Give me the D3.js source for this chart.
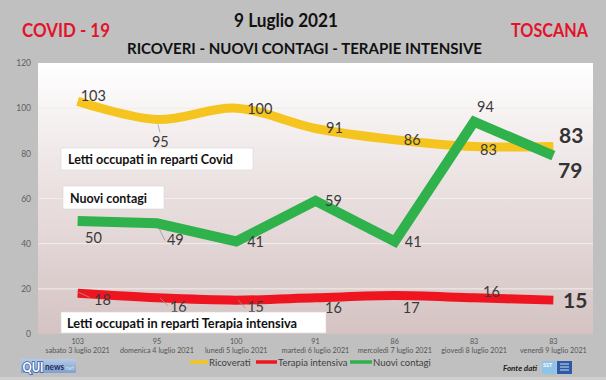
<!DOCTYPE html>
<html><head><meta charset="utf-8">
<script src="https://cdn.jsdelivr.net/npm/d3@7"></script>
<style>
html,body{margin:0;padding:0;background:#c0c0c0;}
svg{display:block;font-family:Lato,"Open Sans",sans-serif;}
</style></head>
<body><svg id="c" width="606" height="380"></svg>
<script>
// ---- data ----
const dates = ["sabato 3 luglio 2021","domenica 4 luglio 2021","lunedì 5 luglio 2021","martedì 6 luglio 2021","mercoledì 7 luglio 2021","giovedì 8 luglio 2021","venerdì 9 luglio 2021"];
const ricoverati = [103,95,100,91,86,83,83];
const terapiaIntensiva = [18,16,15,16,17,16,15];
const nuoviContagi = [50,49,41,59,41,94,79];
const yTicks = [0,20,40,60,80,100,120];
const seriesNames = ["Ricoverati","Terapia intensiva","Nuovi contagi"];

// label placement (offsets from point: dx to text start, dy to baseline)
const offRic = [[3,0],[-5,27.5],[11,6],[10.5,4.5],[9,5],[6,8.4],[5.6,-3.6]];
const offCon = [[7.4,22],[10,22],[11,5.6],[9.5,5],[10,5.6],[3,-9.7],[4.6,22.4]];
const offTer = [[16.4,11.6],[13,14],[11,12],[9.5,15],[8,17.4],[9,-1],[9.6,8]];

const svg = d3.select("#c");
const W = 606, H = 380;
const plot = {l:38, r:593, t:63, b:334};

svg.append("rect").attr("width",W).attr("height",H).attr("fill","#c0c0c0");
svg.append("rect").attr("y",377).attr("width",W).attr("height",3).attr("fill","#cfcfcf");

const defs = svg.append("defs");
const g1 = defs.append("linearGradient").attr("id","pg").attr("x1",0).attr("y1",0).attr("x2",0).attr("y2",1);
g1.append("stop").attr("offset","0%").attr("stop-color","#ffffff");
g1.append("stop").attr("offset","45%").attr("stop-color","#ebe1e1");
g1.append("stop").attr("offset","100%").attr("stop-color","#d5c3c3");

const x = d3.scaleBand().domain(d3.range(dates.length)).range([plot.l, plot.r]);
const xc = i => x(i) + x.bandwidth()/2;
const y = d3.scaleLinear().domain([0,120]).range([plot.b, plot.t]);

svg.append("rect").attr("x",plot.l).attr("y",plot.t).attr("width",plot.r-plot.l).attr("height",plot.b-plot.t).attr("fill","url(#pg)");

// gridlines
svg.append("g").selectAll("line").data(yTicks.filter(v=>v>0&&v<120)).join("line")
  .attr("x1",plot.l).attr("x2",plot.r).attr("y1",d=>y(d)).attr("y2",d=>y(d))
  .attr("stroke","#f2ecec").attr("stroke-width",1);

// y axis
const yAxis = d3.axisLeft(y).tickValues(yTicks).tickSize(0).tickPadding(0);
const ya = svg.append("g").attr("transform","translate(31,0)").call(yAxis);
ya.select(".domain").remove();
ya.selectAll("text").attr("font-size",8.5).attr("fill","#606060").attr("font-family","Lato");

// x axis labels: values row and date row
const xl = svg.append("g");
xl.selectAll("text.v").data(ricoverati).join("text").attr("class","v")
  .attr("x",(d,i)=>xc(i)).attr("y",344).attr("text-anchor","middle")
  .attr("font-size",7.2).attr("fill","#555").text(d=>d);
xl.selectAll("text.d").data(dates).join("text").attr("class","d")
  .attr("x",(d,i)=>xc(i)).attr("y",353).attr("text-anchor","middle")
  .attr("font-size",7.2).attr("fill","#555").text(d=>d);

// lines
const smooth = d3.line().x((d,i)=>xc(i)).y(d=>y(d)).curve(d3.curveCatmullRom.alpha(0.5));
const straight = d3.line().x((d,i)=>xc(i)).y(d=>y(d));
const colRic = "#f5c41f", colTer = "#ee1520", colCon = "#2fb14b";

svg.append("path").attr("d",smooth(ricoverati)).attr("fill","none").attr("stroke",colRic).attr("stroke-width",9);
svg.append("path").attr("d",smooth(terapiaIntensiva)).attr("fill","none").attr("stroke",colTer).attr("stroke-width",9);
svg.append("path").attr("d",straight(nuoviContagi)).attr("fill","none").attr("stroke",colCon).attr("stroke-width",10).attr("stroke-linejoin","miter");

// leader lines
const leaders = [
  [ricoverati,1,[1,5],[3,13]],
  [nuoviContagi,1,[2,5],[8,17]],
  [terapiaIntensiva,0,[1,-1],[12,4]],
  [terapiaIntensiva,1,[3,0],[11,8]],
  [terapiaIntensiva,2,[2,0],[9,8]]
];
leaders.forEach(([s,i,a,b])=>{
  svg.append("line").attr("x1",xc(i)+a[0]).attr("y1",y(s[i])+a[1]).attr("x2",xc(i)+b[0]).attr("y2",y(s[i])+b[1])
    .attr("stroke","#9a9a9a").attr("stroke-width",0.8);
});

// data labels
function labels(series, offs){
  const n = series.length;
  svg.append("g").selectAll("text").data(series).join("text")
    .attr("x",(d,i)=>xc(i)+offs[i][0]).attr("y",(d,i)=>y(d)+offs[i][1])
    .attr("font-size",(d,i)=>i===n-1?21:14.5)
    .attr("font-weight",(d,i)=>i===n-1?"bold":"normal")
    .attr("fill",(d,i)=>i===n-1?"#333":"#3a3a3a")
    .text(d=>d);
}
labels(ricoverati, offRic);
labels(nuoviContagi, offCon);
labels(terapiaIntensiva, offTer);

// annotation boxes
function box(x0,y0,w,h,tx,ty,tw,txt){
  svg.append("rect").attr("x",x0).attr("y",y0).attr("width",w).attr("height",h).attr("fill","#ffffff").attr("stroke","#d8d8d8").attr("stroke-width",0.6);
  svg.append("text").attr("x",tx).attr("y",ty).attr("font-size",14).attr("font-weight","bold").attr("fill","#111")
    .attr("textLength",tw).attr("lengthAdjust","spacingAndGlyphs").text(txt);
}
box(61,148,192,22,68,164,165,"Letti occupati in reparti Covid");
box(63,186,101,23,70,202.5,77,"Nuovi contagi");
box(61,312,265,21,67,327.5,230,"Letti occupati in reparti Terapia intensiva");

// titles
function title(txt,x0,yb,size,fill,len,anchor){
  svg.append("text").attr("x",x0).attr("y",yb).attr("font-size",size).attr("font-weight","bold").attr("fill",fill)
    .attr("text-anchor",anchor||"start").attr("textLength",len).attr("lengthAdjust","spacingAndGlyphs").text(txt);
}
title("COVID - 19",22,37,19,"#e3132b",88);
title("9 Luglio 2021",234,27,18,"#111",104);
title("RICOVERI - NUOVI CONTAGI - TERAPIE INTENSIVE",127,54,15.5,"#111",355);
title("TOSCANA",511,37,19,"#e3132b",77);

// legend
const legX = [[190,208],[256,277],[350,372]];
const legC = [colRic,colTer,colCon];
seriesNames.forEach((n,i)=>{
  svg.append("line").attr("x1",legX[i][0]).attr("x2",legX[i][1]).attr("y1",362).attr("y2",362).attr("stroke",legC[i]).attr("stroke-width",3.5);
  svg.append("text").attr("x",legX[i][1]+1).attr("y",365.5).attr("font-size",9.5).attr("fill","#404040").text(n);
});

// QUInews logo
const lg = defs.append("linearGradient").attr("id","lq").attr("x1",0).attr("y1",0).attr("x2",0).attr("y2",1);
lg.append("stop").attr("offset","0%").attr("stop-color","#b6cbe6");
lg.append("stop").attr("offset","100%").attr("stop-color","#7f9fcc");
svg.append("rect").attr("x",21).attr("y",359).attr("width",55).attr("height",14).attr("fill","url(#lq)").attr("rx",1);
svg.append("text").attr("x",22.5).attr("y",371.5).attr("font-size",12.5).attr("font-weight","bold").attr("fill","#ffffff")
  .attr("stroke","#2a5ba8").attr("stroke-width",1.6).attr("paint-order","stroke")
  .attr("textLength",21).attr("lengthAdjust","spacingAndGlyphs").text("QUI");
svg.append("text").attr("x",45).attr("y",370).attr("font-size",8.5).attr("font-weight","bold").attr("fill","#1c2d5c")
  .attr("textLength",19).attr("lengthAdjust","spacingAndGlyphs").text("news");
svg.append("text").attr("x",65.5).attr("y",370).attr("font-size",6).attr("fill","#d4e0f0").text("net");

// Fonte dati
svg.append("text").attr("x",503).attr("y",371).attr("font-size",8).attr("font-weight","bold").attr("font-style","italic").attr("fill","#222").text("Fonte dati");
svg.append("rect").attr("x",542).attr("y",361).attr("width",14).attr("height",13).attr("fill","#8ec3ea");
svg.append("text").attr("x",543).attr("y",367).attr("font-size",5.5).attr("font-weight","bold").attr("fill","#fff").text("SST");
svg.append("rect").attr("x",557).attr("y",361).attr("width",15).attr("height",13).attr("fill","#2c5aa8");
[364,367,370].forEach(yy=>svg.append("line").attr("x1",560).attr("x2",569).attr("y1",yy).attr("y2",yy).attr("stroke","#fff").attr("stroke-width",0.8));
</script></body></html>
